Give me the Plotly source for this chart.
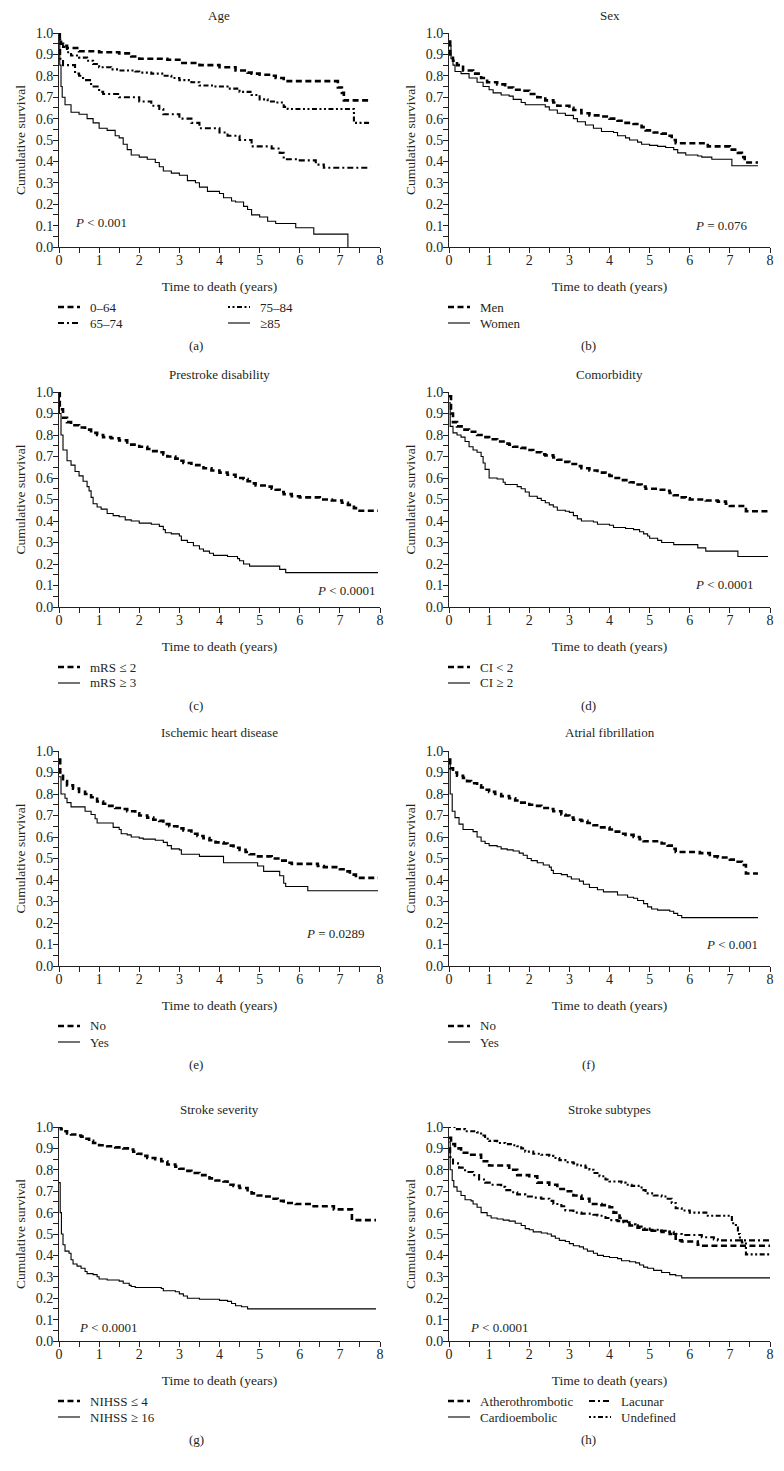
import plotly.graph_objects as go

# ---------------- data ----------------
# (a) Age
age_064_t = [0, 0.02, 0.05, 0.1, 0.2, 0.5, 1.0, 1.5, 1.8, 2.0, 2.7, 3.0, 3.5, 4.0, 4.4, 4.7, 4.8, 5.0, 5.3, 5.4, 5.6, 6.95, 7.05, 7.1, 7.76]
age_064_s = [1.0, 0.97, 0.95, 0.94, 0.93, 0.915, 0.91, 0.905, 0.89, 0.88, 0.875, 0.86, 0.85, 0.84, 0.825, 0.815, 0.81, 0.805, 0.8, 0.79, 0.775, 0.745, 0.72, 0.685, 0.685]
age_7584_t = [0, 0.03, 0.1, 0.2, 0.3, 0.5, 0.7, 0.85, 1.0, 1.3, 1.5, 1.9, 2.0, 2.3, 2.6, 2.8, 3.0, 3.3, 3.5, 3.9, 4.2, 4.5, 4.8, 5.0, 5.2, 5.4, 5.6, 5.7, 7.35, 7.76]
age_7584_s = [0.97, 0.95, 0.935, 0.91, 0.895, 0.885, 0.87, 0.855, 0.84, 0.83, 0.825, 0.82, 0.815, 0.81, 0.8, 0.79, 0.78, 0.77, 0.755, 0.75, 0.74, 0.725, 0.71, 0.69, 0.68, 0.675, 0.655, 0.645, 0.58, 0.58]
age_6574_t = [0, 0.03, 0.1, 0.4, 0.5, 0.6, 0.8, 1.0, 1.1, 1.5, 2.0, 2.3, 2.5, 2.6, 3.0, 3.3, 3.5, 4.0, 4.2, 4.5, 4.8, 5.3, 5.5, 5.6, 6.0, 6.4, 6.6, 7.76]
age_6574_s = [0.92, 0.88, 0.85, 0.81, 0.8, 0.78, 0.75, 0.725, 0.715, 0.7, 0.68, 0.66, 0.645, 0.62, 0.6, 0.58, 0.555, 0.535, 0.52, 0.5, 0.47, 0.46, 0.44, 0.41, 0.405, 0.385, 0.37, 0.37]
age_85_t = [0, 0.02, 0.05, 0.08, 0.15, 0.3, 0.5, 0.7, 0.85, 1.0, 1.2, 1.4, 1.5, 1.6, 1.7, 1.8, 2.0, 2.2, 2.4, 2.5, 2.6, 2.8, 3.0, 3.2, 3.4, 3.5, 3.7, 4.0, 4.1, 4.3, 4.4, 4.6, 4.7, 4.8, 5.0, 5.2, 5.4, 5.9, 6.35, 7.2]
age_85_s = [1.0, 0.85, 0.75, 0.7, 0.665, 0.63, 0.62, 0.6, 0.58, 0.555, 0.545, 0.52, 0.51, 0.48, 0.455, 0.43, 0.42, 0.41, 0.395, 0.375, 0.355, 0.345, 0.335, 0.31, 0.3, 0.28, 0.26, 0.25, 0.23, 0.215, 0.21, 0.19, 0.175, 0.15, 0.14, 0.12, 0.11, 0.09, 0.06, 0.0]

# (b) Sex
men_t = [0, 0.03, 0.1, 0.2, 0.35, 0.6, 0.8, 0.95, 1.2, 1.4, 1.6, 1.8, 2.0, 2.2, 2.4, 2.6, 2.7, 3.0, 3.1, 3.3, 3.5, 3.8, 4.0, 4.2, 4.4, 4.6, 4.8, 4.9, 5.1, 5.3, 5.45, 5.55, 5.65, 6.45, 7.0, 7.2, 7.3, 7.37, 7.7]
men_s = [0.96, 0.9, 0.87, 0.85, 0.825, 0.81, 0.79, 0.77, 0.76, 0.745, 0.735, 0.73, 0.715, 0.7, 0.685, 0.675, 0.66, 0.65, 0.64, 0.625, 0.615, 0.61, 0.6, 0.59, 0.58, 0.575, 0.56, 0.545, 0.535, 0.53, 0.52, 0.5, 0.485, 0.47, 0.455, 0.44, 0.42, 0.395, 0.395]
women_t = [0, 0.05, 0.1, 0.15, 0.3, 0.5, 0.7, 0.85, 1.0, 1.1, 1.3, 1.5, 1.6, 1.8, 1.9, 2.4, 2.5, 2.7, 2.9, 3.1, 3.2, 3.4, 3.6, 3.8, 4.1, 4.2, 4.4, 4.5, 4.7, 4.8, 5.0, 5.2, 5.4, 5.6, 5.7, 5.9, 6.2, 6.3, 6.55, 7.05, 7.7]
women_s = [0.94, 0.88, 0.85, 0.82, 0.81, 0.79, 0.77, 0.75, 0.735, 0.72, 0.71, 0.705, 0.69, 0.675, 0.665, 0.655, 0.64, 0.625, 0.615, 0.6, 0.585, 0.57, 0.555, 0.54, 0.535, 0.52, 0.51, 0.5, 0.49, 0.48, 0.475, 0.47, 0.465, 0.455, 0.44, 0.43, 0.425, 0.42, 0.41, 0.38, 0.38]

# (c) Prestroke disability
mrs2_t = [0, 0.02, 0.1, 0.2, 0.3, 0.5, 0.65, 0.8, 0.95, 1.1, 1.3, 1.5, 1.7, 1.8, 2.0, 2.2, 2.3, 2.5, 2.6, 2.7, 2.9, 3.0, 3.1, 3.3, 3.5, 3.6, 3.8, 4.0, 4.2, 4.4, 4.6, 4.7, 4.8, 4.9, 5.2, 5.3, 5.4, 5.5, 5.6, 5.8, 6.0, 6.5, 6.8, 7.05, 7.2, 7.35, 7.4, 7.95]
mrs2_s = [1.0, 0.92, 0.88, 0.86, 0.845, 0.835, 0.825, 0.81, 0.8, 0.79, 0.785, 0.775, 0.765, 0.755, 0.745, 0.735, 0.725, 0.72, 0.71, 0.7, 0.69, 0.68, 0.67, 0.66, 0.65, 0.645, 0.635, 0.625, 0.615, 0.6, 0.595, 0.585, 0.575, 0.565, 0.56, 0.55, 0.545, 0.535, 0.525, 0.515, 0.51, 0.5, 0.495, 0.485, 0.475, 0.46, 0.448, 0.448]
mrs3_t = [0, 0.01, 0.05, 0.1, 0.2, 0.3, 0.4, 0.5, 0.6, 0.7, 0.75, 0.8, 0.85, 0.95, 1.05, 1.2, 1.35, 1.5, 1.65, 1.8, 2.0, 2.3, 2.5, 2.6, 2.65, 2.8, 3.0, 3.05, 3.2, 3.35, 3.5, 3.6, 3.75, 3.85, 4.2, 4.45, 4.5, 4.6, 4.75, 5.5, 5.65, 7.95]
mrs3_s = [1.0, 0.9, 0.8, 0.73, 0.68, 0.66, 0.63, 0.61, 0.585, 0.56, 0.54, 0.51, 0.48, 0.465, 0.455, 0.435, 0.425, 0.42, 0.405, 0.4, 0.39, 0.385, 0.375, 0.36, 0.345, 0.34, 0.33, 0.31, 0.3, 0.285, 0.27, 0.26, 0.25, 0.24, 0.235, 0.225, 0.215, 0.2, 0.19, 0.175, 0.16, 0.16]

# (d) Comorbidity
ci_lt2_t = [0, 0.05, 0.1, 0.2, 0.35, 0.5, 0.7, 0.85, 1.0, 1.2, 1.4, 1.5, 1.6, 1.8, 1.9, 2.1, 2.3, 2.4, 2.6, 2.7, 2.9, 3.0, 3.2, 3.3, 3.5, 3.7, 3.9, 4.0, 4.1, 4.3, 4.5, 4.6, 4.8, 4.9, 5.2, 5.4, 5.5, 5.6, 5.7, 5.9, 6.0, 6.4, 6.7, 6.9, 7.0, 7.4, 7.95]
ci_lt2_s = [0.98, 0.9, 0.86, 0.84, 0.825, 0.815, 0.8, 0.79, 0.78, 0.77, 0.76, 0.755, 0.745, 0.74, 0.73, 0.72, 0.71, 0.705, 0.695, 0.685, 0.675, 0.665, 0.655, 0.645, 0.635, 0.625, 0.615, 0.61, 0.6, 0.59, 0.58, 0.57, 0.56, 0.55, 0.545, 0.54, 0.53, 0.52, 0.51, 0.505, 0.5, 0.495, 0.49, 0.48, 0.47, 0.445, 0.445]
ci_ge2_t = [0, 0.03, 0.1, 0.2, 0.3, 0.4, 0.5, 0.6, 0.7, 0.8, 0.85, 0.9, 1.0, 1.2, 1.35, 1.4, 1.7, 1.8, 1.9, 2.0, 2.2, 2.3, 2.4, 2.5, 2.6, 2.7, 2.9, 3.0, 3.1, 3.2, 3.3, 3.6, 3.7, 4.0, 4.1, 4.4, 4.6, 4.75, 4.85, 4.95, 5.0, 5.2, 5.3, 5.6, 6.2, 6.4, 7.2, 7.95]
ci_ge2_s = [0.95, 0.84, 0.81, 0.8, 0.79, 0.77, 0.745, 0.73, 0.72, 0.7, 0.67, 0.64, 0.6, 0.595, 0.58, 0.57, 0.56, 0.55, 0.535, 0.515, 0.505, 0.495, 0.485, 0.475, 0.465, 0.45, 0.445, 0.44, 0.425, 0.41, 0.4, 0.395, 0.385, 0.38, 0.37, 0.365, 0.36, 0.35, 0.34, 0.33, 0.32, 0.31, 0.3, 0.29, 0.275, 0.26, 0.235, 0.235]

# (e) Ischemic heart disease
ihd_no_t = [0, 0.03, 0.1, 0.2, 0.35, 0.5, 0.65, 0.8, 0.95, 1.1, 1.25, 1.4, 1.55, 1.7, 1.9, 2.0, 2.2, 2.35, 2.5, 2.6, 2.75, 2.95, 3.1, 3.3, 3.45, 3.6, 3.75, 3.9, 4.1, 4.2, 4.35, 4.5, 4.65, 4.75, 4.9, 5.3, 5.5, 5.65, 5.8, 6.45, 6.6, 7.0, 7.15, 7.25, 7.4, 7.95]
ihd_no_s = [0.96, 0.9, 0.86, 0.84, 0.825, 0.81, 0.8, 0.785, 0.765, 0.755, 0.745, 0.735, 0.73, 0.72, 0.71, 0.7, 0.69, 0.68, 0.675, 0.66, 0.65, 0.64, 0.63, 0.615, 0.605, 0.595, 0.585, 0.575, 0.57, 0.56, 0.55, 0.54, 0.53, 0.52, 0.51, 0.5, 0.49, 0.48, 0.475, 0.465, 0.46, 0.45, 0.44, 0.425, 0.41, 0.41]
ihd_yes_t = [0, 0.05, 0.15, 0.2, 0.3, 0.65, 0.8, 0.9, 0.95, 1.35, 1.5, 1.55, 1.7, 1.8, 2.0, 2.1, 2.4, 2.6, 2.7, 2.8, 3.0, 3.05, 3.5, 4.1, 4.95, 5.1, 5.5, 5.6, 5.65, 6.2, 7.95]
ihd_yes_s = [0.88, 0.8, 0.78, 0.76, 0.74, 0.72, 0.705, 0.685, 0.665, 0.645, 0.635, 0.615, 0.61, 0.6, 0.595, 0.59, 0.585, 0.575, 0.56, 0.545, 0.54, 0.52, 0.51, 0.48, 0.465, 0.44, 0.42, 0.385, 0.37, 0.35, 0.35]

# (f) Atrial fibrillation
af_no_t = [0, 0.03, 0.1, 0.2, 0.35, 0.45, 0.55, 0.7, 0.8, 0.9, 1.0, 1.15, 1.3, 1.5, 1.65, 1.8, 2.0, 2.15, 2.3, 2.5, 2.6, 2.8, 2.9, 3.0, 3.1, 3.3, 3.45, 3.6, 3.75, 4.0, 4.1, 4.3, 4.4, 4.6, 4.75, 4.85, 5.3, 5.45, 5.55, 5.65, 6.25, 6.5, 6.7, 7.0, 7.15, 7.3, 7.4, 7.7]
af_no_s = [0.96, 0.92, 0.9, 0.885, 0.875, 0.86, 0.85, 0.84, 0.83, 0.82, 0.81, 0.8, 0.79, 0.78, 0.77, 0.76, 0.75, 0.745, 0.735, 0.73, 0.72, 0.705, 0.7, 0.69, 0.68, 0.675, 0.665, 0.655, 0.645, 0.635, 0.625, 0.615, 0.61, 0.6, 0.59, 0.58, 0.57, 0.56, 0.545, 0.53, 0.525, 0.51, 0.505, 0.495, 0.485, 0.47, 0.43, 0.43]
af_yes_t = [0, 0.03, 0.08, 0.15, 0.25, 0.35, 0.6, 0.7, 0.8, 0.9, 1.0, 1.2, 1.3, 1.45, 1.6, 1.75, 1.85, 1.95, 2.05, 2.2, 2.35, 2.5, 2.55, 2.6, 2.8, 2.95, 3.05, 3.25, 3.35, 3.5, 3.7, 3.85, 4.2, 4.45, 4.6, 4.7, 4.85, 4.95, 5.05, 5.2, 5.5, 5.6, 5.7, 5.8, 7.7]
af_yes_s = [0.95, 0.8, 0.72, 0.69, 0.66, 0.635, 0.625, 0.6, 0.58, 0.57, 0.56, 0.555, 0.545, 0.54, 0.535, 0.525, 0.515, 0.5, 0.49, 0.48, 0.47, 0.46, 0.445, 0.43, 0.425, 0.415, 0.405, 0.395, 0.38, 0.365, 0.355, 0.345, 0.33, 0.32, 0.315, 0.305, 0.29, 0.275, 0.265, 0.26, 0.255, 0.245, 0.235, 0.225, 0.225]

# (g) Stroke severity
nih_le4_t = [0, 0.05, 0.1, 0.2, 0.3, 0.45, 0.55, 0.65, 0.75, 0.85, 1.0, 1.2, 1.4, 1.6, 1.75, 1.85, 1.95, 2.05, 2.2, 2.4, 2.55, 2.7, 2.9, 3.0, 3.15, 3.3, 3.5, 3.65, 3.75, 3.9, 4.1, 4.2, 4.35, 4.5, 4.7, 4.8, 4.95, 5.1, 5.3, 5.45, 5.6, 5.9, 6.3, 6.85, 7.3, 7.9]
nih_le4_s = [1.0, 0.99, 0.98, 0.97, 0.965, 0.96, 0.955, 0.945, 0.935, 0.925, 0.915, 0.91, 0.905, 0.9, 0.895, 0.885, 0.875, 0.865, 0.855, 0.85, 0.84, 0.825, 0.815, 0.805, 0.795, 0.785, 0.775, 0.765, 0.76, 0.75, 0.745, 0.73, 0.725, 0.715, 0.705, 0.69, 0.68, 0.675, 0.665, 0.655, 0.645, 0.64, 0.63, 0.615, 0.565, 0.565]
nih_ge16_t = [0, 0.03, 0.06, 0.1, 0.15, 0.25, 0.3, 0.35, 0.45, 0.55, 0.65, 0.7, 0.85, 0.95, 1.0, 1.2, 1.5, 1.6, 1.75, 1.8, 1.9, 2.55, 2.6, 2.9, 3.0, 3.1, 3.2, 3.5, 4.0, 4.2, 4.3, 4.4, 4.55, 4.7, 7.9]
nih_ge16_s = [0.74, 0.6, 0.5, 0.45, 0.42, 0.41, 0.38, 0.36, 0.35, 0.34, 0.325, 0.315, 0.31, 0.3, 0.29, 0.285, 0.28, 0.27, 0.26, 0.255, 0.25, 0.245, 0.235, 0.23, 0.22, 0.21, 0.2, 0.195, 0.19, 0.185, 0.175, 0.165, 0.16, 0.15, 0.15]

# (h) Stroke subtypes
athero_t = [0, 0.05, 0.15, 0.3, 0.5, 0.8, 1.0, 1.5, 1.7, 2.0, 2.2, 2.5, 2.7, 2.9, 3.1, 3.3, 3.5, 3.8, 4.0, 4.1, 4.25, 4.35, 4.5, 4.7, 4.8, 5.0, 5.3, 5.5, 5.65, 5.8, 6.2, 6.3, 8.0]
athero_s = [0.95, 0.92, 0.9, 0.88, 0.87, 0.84, 0.82, 0.8, 0.775, 0.77, 0.74, 0.73, 0.71, 0.7, 0.68, 0.665, 0.64, 0.635, 0.625, 0.6, 0.575, 0.56, 0.54, 0.53, 0.52, 0.515, 0.51, 0.5, 0.47, 0.465, 0.45, 0.445, 0.445]
cardio_t = [0, 0.03, 0.08, 0.12, 0.2, 0.3, 0.4, 0.55, 0.6, 0.7, 0.8, 0.95, 1.05, 1.2, 1.35, 1.5, 1.65, 1.8, 1.9, 2.0, 2.1, 2.3, 2.45, 2.55, 2.65, 2.75, 2.9, 3.0, 3.1, 3.25, 3.35, 3.45, 3.6, 3.7, 3.85, 4.0, 4.2, 4.3, 4.5, 4.65, 4.75, 4.85, 4.95, 5.1, 5.3, 5.5, 5.65, 5.8, 8.0]
cardio_s = [0.93, 0.8, 0.75, 0.72, 0.7, 0.68, 0.66, 0.655, 0.64, 0.625, 0.6, 0.585, 0.575, 0.57, 0.565, 0.56, 0.55, 0.54, 0.525, 0.52, 0.51, 0.505, 0.5, 0.49, 0.48, 0.47, 0.465, 0.455, 0.445, 0.44, 0.43, 0.42, 0.41, 0.4, 0.395, 0.39, 0.385, 0.375, 0.37, 0.365, 0.355, 0.345, 0.34, 0.33, 0.32, 0.31, 0.305, 0.295, 0.295]
lacunar_t = [0, 0.03, 0.1, 0.25, 0.4, 0.6, 0.75, 0.9, 1.05, 1.3, 1.4, 1.6, 1.7, 1.9, 2.1, 2.3, 2.5, 2.6, 2.8, 2.9, 3.1, 3.3, 3.6, 3.7, 3.9, 4.0, 4.2, 4.35, 4.5, 4.65, 4.8, 5.0, 5.2, 5.4, 5.6, 5.8, 6.3, 6.6, 6.7, 8.0]
lacunar_s = [0.9, 0.86, 0.83, 0.81, 0.79, 0.775, 0.755, 0.74, 0.73, 0.72, 0.705, 0.695, 0.685, 0.675, 0.67, 0.665, 0.655, 0.64, 0.63, 0.61, 0.6, 0.595, 0.59, 0.585, 0.575, 0.565, 0.56, 0.555, 0.545, 0.535, 0.525, 0.52, 0.515, 0.51, 0.5, 0.495, 0.485, 0.475, 0.47, 0.47]
undef_t = [0, 0.15, 0.4, 0.7, 0.8, 0.9, 1.0, 1.2, 1.4, 1.6, 1.7, 1.8, 1.9, 2.1, 2.3, 2.5, 2.6, 2.75, 2.9, 3.1, 3.2, 3.4, 3.5, 3.6, 3.75, 3.9, 4.0, 4.3, 4.4, 4.55, 4.8, 4.9, 5.1, 5.3, 5.45, 5.55, 5.65, 5.8, 6.0, 6.45, 7.05, 7.15, 7.2, 7.25, 7.3, 7.4, 8.0]
undef_s = [1.0, 0.99, 0.98, 0.975, 0.96, 0.945, 0.935, 0.925, 0.92, 0.915, 0.91, 0.9, 0.885, 0.875, 0.87, 0.865, 0.855, 0.845, 0.835, 0.83, 0.82, 0.81, 0.8, 0.785, 0.77, 0.755, 0.745, 0.74, 0.73, 0.725, 0.705, 0.69, 0.68, 0.675, 0.665, 0.645, 0.62, 0.61, 0.6, 0.585, 0.55, 0.53, 0.5, 0.47, 0.46, 0.405, 0.405]

panel_titles = ["Age", "Sex", "Prestroke disability", "Comorbidity",
                "Ischemic heart disease", "Atrial fibrillation", "Stroke severity", "Stroke subtypes"]
panel_letters = ["(a)", "(b)", "(c)", "(d)", "(e)", "(f)", "(g)", "(h)"]
p_texts = ["<i>P</i> < 0.001", "<i>P</i> = 0.076", "<i>P</i> < 0.0001", "<i>P</i> < 0.0001",
           "<i>P</i> = 0.0289", "<i>P</i> < 0.001", "<i>P</i> < 0.0001", "<i>P</i> < 0.0001"]
x_ticks = [0, 1, 2, 3, 4, 5, 6, 7, 8]
x_title = "Time to death (years)"
y_title = "Cumulative survival"

# ---------------- styling / layout ----------------
PAGE_W, PAGE_H = 784, 1471
OFF = 8                       # default page margin around the plot div
FW, FH = PAGE_W - OFF, PAGE_H - OFF
FONT = "Liberation Serif"
TXT = "#231f20"
STY = {
    "dash": dict(dash="6px,3.5px", width=2.6),
    "dashdot": dict(dash="6px,3px,2px,3px", width=2.1),
    "dotdash": dict(dash="2px,2.5px,2px,2.5px,5px,2.5px", width=2.1),
    "solid": dict(dash="solid", width=1.1),
}
COLS = [(59, 380), (449, 770)]
ROWS = [(33, 247), (392, 607), (751, 966), (1127, 1341)]


def px_x(p):
    return (p - OFF) / FW


def px_y(p):
    return 1 - (p - OFF) / FH


# series per panel: (name, t, s, style, legend column, legend row)
panels = [
    [("0–64", age_064_t, age_064_s, "dash", 0, 0), ("75–84", age_7584_t, age_7584_s, "dotdash", 1, 0),
     ("65–74", age_6574_t, age_6574_s, "dashdot", 0, 1), ("≥85", age_85_t, age_85_s, "solid", 1, 1)],
    [("Men", men_t, men_s, "dash", 0, 0), ("Women", women_t, women_s, "solid", 0, 1)],
    [("mRS ≤ 2", mrs2_t, mrs2_s, "dash", 0, 0), ("mRS ≥ 3", mrs3_t, mrs3_s, "solid", 0, 1)],
    [("CI < 2", ci_lt2_t, ci_lt2_s, "dash", 0, 0), ("CI ≥ 2", ci_ge2_t, ci_ge2_s, "solid", 0, 1)],
    [("No", ihd_no_t, ihd_no_s, "dash", 0, 0), ("Yes", ihd_yes_t, ihd_yes_s, "solid", 0, 1)],
    [("No", af_no_t, af_no_s, "dash", 0, 0), ("Yes", af_yes_t, af_yes_s, "solid", 0, 1)],
    [("NIHSS ≤ 4", nih_le4_t, nih_le4_s, "dash", 0, 0), ("NIHSS ≥ 16", nih_ge16_t, nih_ge16_s, "solid", 0, 1)],
    [("Atherothrombotic", athero_t, athero_s, "dash", 0, 0), ("Lacunar", lacunar_t, lacunar_s, "dashdot", 1, 0),
     ("Cardioembolic", cardio_t, cardio_s, "solid", 0, 1), ("Undefined", undef_t, undef_s, "dotdash", 1, 1)],
]
legend_col2 = [170, 0, 0, 0, 0, 0, 0, 141]
p_pos = [(0.35, 0.115, "left"), (7.5, 0.1, "right"), (7.95, 0.075, "right"), (7.65, 0.105, "right"),
         (7.68, 0.15, "right"), (7.75, 0.1, "right"), (0.45, 0.065, "left"), (0.47, 0.065, "left")]

fig = go.Figure()
annotations, shapes = [], []
layout = dict(width=FW, height=FH, margin=dict(l=0, r=0, t=0, b=0), showlegend=False,
              paper_bgcolor="white", plot_bgcolor="white",
              font=dict(family=FONT, size=13, color=TXT))

for i, series in enumerate(panels):
    r, c = divmod(i, 2)
    x0, x1 = COLS[c]
    y0, y1 = ROWS[r]
    ax = "" if i == 0 else str(i + 1)
    axis_common = dict(showline=True, linecolor=TXT, linewidth=1, ticks="outside", ticklen=5,
                       tickwidth=1, tickcolor=TXT, showgrid=False, zeroline=False, automargin=False,
                       tickfont=dict(family=FONT, size=14, color=TXT))
    layout["xaxis" + ax] = dict(axis_common, domain=[px_x(x0), px_x(x1)], anchor="y" + ax, range=[0, 8],
                                tickvals=x_ticks, ticklabelstandoff=-5,
                                minor=dict(dtick=0.5, tick0=0, ticks="outside", ticklen=5,
                                           tickwidth=1, tickcolor=TXT),
                                title=dict(text=x_title, standoff=14, font=dict(size=13.5)))
    layout["yaxis" + ax] = dict(axis_common, domain=[px_y(y1), px_y(y0)], anchor="x" + ax,
                                range=[0, 1.0], dtick=0.1, tick0=0, tickformat=".1f",
                                ticklabelstandoff=-3,
                                minor=dict(dtick=0.05, tick0=0, ticks="outside", ticklen=5,
                                           tickwidth=1, tickcolor=TXT),
                                title=dict(text=y_title, standoff=6, font=dict(size=13.5)))
    for name, t, s, sty, lc, lr in series:
        fig.add_trace(go.Scatter(x=t, y=s, mode="lines", name=name, line_shape="hv",
                                 line=dict(color="black", **STY[sty]),
                                 xaxis="x" + ax, yaxis="y" + ax, hoverinfo="skip"))
        # legend entry (sample line + label)
        lx = x0 - 1 + (legend_col2[i] if lc == 1 else 0)
        ly = px_y(y1 + 60 + 16 * lr)
        shapes.append(dict(type="line", xref="paper", yref="paper", x0=px_x(lx), x1=px_x(lx + 22),
                           y0=ly, y1=ly, line=dict(color="black", **STY[sty])))
        annotations.append(dict(text=name, x=px_x(lx + 30), y=ly, xref="paper", yref="paper",
                                showarrow=False, xanchor="left", yanchor="middle",
                                font=dict(size=13)))
    annotations.append(dict(text=panel_titles[i], x=px_x((x0 + x1) / 2), y=px_y(y0 - 18),
                            xref="paper", yref="paper", showarrow=False,
                            xanchor="center", yanchor="middle", font=dict(size=13)))
    annotations.append(dict(text=panel_letters[i], x=px_x(196 + 392 * c), y=px_y(y1 + 98),
                            xref="paper", yref="paper", showarrow=False,
                            xanchor="center", yanchor="middle", font=dict(size=13)))
    px, py, pa = p_pos[i]
    annotations.append(dict(text=p_texts[i], x=px, y=py, xref="x" + ax, yref="y" + ax,
                            showarrow=False, xanchor=pa, yanchor="middle", font=dict(size=13)))

layout["annotations"] = annotations
layout["shapes"] = shapes
fig.update_layout(**layout)
fig.write_html("out.html")
